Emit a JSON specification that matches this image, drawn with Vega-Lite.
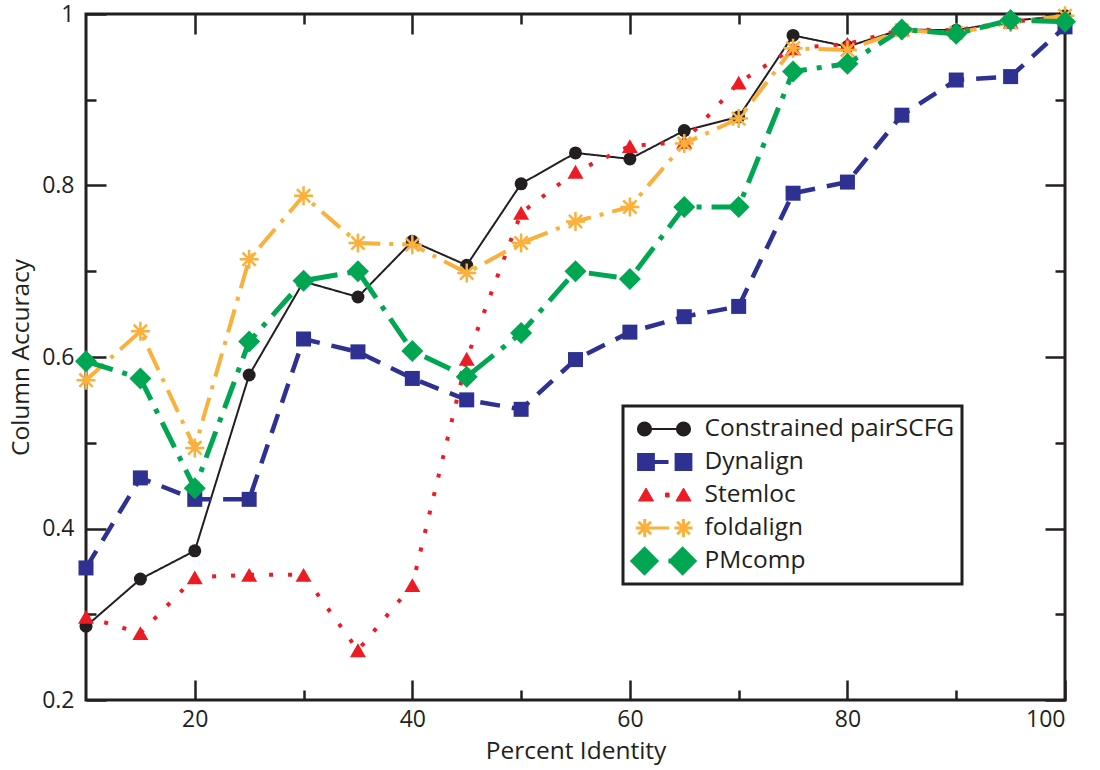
{
  "$schema": "https://vega.github.io/schema/vega-lite/v6.json",
  "autosize": "none",
  "width": 979,
  "height": 686,
  "padding": {"left": 86, "top": 14, "right": 35, "bottom": 70},
  "background": "white",
  "datasets": {
    "acc": [
      {"series": "Constrained pairSCFG", "pid": 10, "acc": 0.286},
      {"series": "Constrained pairSCFG", "pid": 15, "acc": 0.341},
      {"series": "Constrained pairSCFG", "pid": 20, "acc": 0.374},
      {"series": "Constrained pairSCFG", "pid": 25, "acc": 0.579},
      {"series": "Constrained pairSCFG", "pid": 30, "acc": 0.688},
      {"series": "Constrained pairSCFG", "pid": 35, "acc": 0.670},
      {"series": "Constrained pairSCFG", "pid": 40, "acc": 0.735},
      {"series": "Constrained pairSCFG", "pid": 45, "acc": 0.707},
      {"series": "Constrained pairSCFG", "pid": 50, "acc": 0.802},
      {"series": "Constrained pairSCFG", "pid": 55, "acc": 0.838},
      {"series": "Constrained pairSCFG", "pid": 60, "acc": 0.831},
      {"series": "Constrained pairSCFG", "pid": 65, "acc": 0.864},
      {"series": "Constrained pairSCFG", "pid": 70, "acc": 0.880},
      {"series": "Constrained pairSCFG", "pid": 75, "acc": 0.975},
      {"series": "Constrained pairSCFG", "pid": 80, "acc": 0.962},
      {"series": "Constrained pairSCFG", "pid": 85, "acc": 0.982},
      {"series": "Constrained pairSCFG", "pid": 90, "acc": 0.981},
      {"series": "Constrained pairSCFG", "pid": 95, "acc": 0.992},
      {"series": "Constrained pairSCFG", "pid": 100, "acc": 0.998},
      {"series": "Dynalign", "pid": 10, "acc": 0.354},
      {"series": "Dynalign", "pid": 15, "acc": 0.459},
      {"series": "Dynalign", "pid": 20, "acc": 0.434},
      {"series": "Dynalign", "pid": 25, "acc": 0.434},
      {"series": "Dynalign", "pid": 30, "acc": 0.621},
      {"series": "Dynalign", "pid": 35, "acc": 0.606},
      {"series": "Dynalign", "pid": 40, "acc": 0.575},
      {"series": "Dynalign", "pid": 45, "acc": 0.550},
      {"series": "Dynalign", "pid": 50, "acc": 0.539},
      {"series": "Dynalign", "pid": 55, "acc": 0.597},
      {"series": "Dynalign", "pid": 60, "acc": 0.629},
      {"series": "Dynalign", "pid": 65, "acc": 0.647},
      {"series": "Dynalign", "pid": 70, "acc": 0.659},
      {"series": "Dynalign", "pid": 75, "acc": 0.791},
      {"series": "Dynalign", "pid": 80, "acc": 0.804},
      {"series": "Dynalign", "pid": 85, "acc": 0.882},
      {"series": "Dynalign", "pid": 90, "acc": 0.923},
      {"series": "Dynalign", "pid": 95, "acc": 0.927},
      {"series": "Dynalign", "pid": 100, "acc": 0.985},
      {"series": "Stemloc", "pid": 10, "acc": 0.297},
      {"series": "Stemloc", "pid": 15, "acc": 0.278},
      {"series": "Stemloc", "pid": 20, "acc": 0.343},
      {"series": "Stemloc", "pid": 25, "acc": 0.346},
      {"series": "Stemloc", "pid": 30, "acc": 0.346},
      {"series": "Stemloc", "pid": 35, "acc": 0.258},
      {"series": "Stemloc", "pid": 40, "acc": 0.334},
      {"series": "Stemloc", "pid": 45, "acc": 0.598},
      {"series": "Stemloc", "pid": 50, "acc": 0.768},
      {"series": "Stemloc", "pid": 55, "acc": 0.816},
      {"series": "Stemloc", "pid": 60, "acc": 0.846},
      {"series": "Stemloc", "pid": 65, "acc": 0.851},
      {"series": "Stemloc", "pid": 70, "acc": 0.920},
      {"series": "Stemloc", "pid": 75, "acc": 0.960},
      {"series": "Stemloc", "pid": 80, "acc": 0.965},
      {"series": "Stemloc", "pid": 85, "acc": 0.982},
      {"series": "Stemloc", "pid": 90, "acc": 0.981},
      {"series": "Stemloc", "pid": 95, "acc": 0.991},
      {"series": "Stemloc", "pid": 100, "acc": 0.996},
      {"series": "foldalign", "pid": 10, "acc": 0.573},
      {"series": "foldalign", "pid": 15, "acc": 0.630},
      {"series": "foldalign", "pid": 20, "acc": 0.494},
      {"series": "foldalign", "pid": 25, "acc": 0.714},
      {"series": "foldalign", "pid": 30, "acc": 0.788},
      {"series": "foldalign", "pid": 35, "acc": 0.733},
      {"series": "foldalign", "pid": 40, "acc": 0.731},
      {"series": "foldalign", "pid": 45, "acc": 0.698},
      {"series": "foldalign", "pid": 50, "acc": 0.733},
      {"series": "foldalign", "pid": 55, "acc": 0.758},
      {"series": "foldalign", "pid": 60, "acc": 0.775},
      {"series": "foldalign", "pid": 65, "acc": 0.849},
      {"series": "foldalign", "pid": 70, "acc": 0.878},
      {"series": "foldalign", "pid": 75, "acc": 0.960},
      {"series": "foldalign", "pid": 80, "acc": 0.958},
      {"series": "foldalign", "pid": 85, "acc": 0.981},
      {"series": "foldalign", "pid": 90, "acc": 0.978},
      {"series": "foldalign", "pid": 95, "acc": 0.990},
      {"series": "foldalign", "pid": 100, "acc": 0.998},
      {"series": "PMcomp", "pid": 10, "acc": 0.595},
      {"series": "PMcomp", "pid": 15, "acc": 0.575},
      {"series": "PMcomp", "pid": 20, "acc": 0.447},
      {"series": "PMcomp", "pid": 25, "acc": 0.618},
      {"series": "PMcomp", "pid": 30, "acc": 0.689},
      {"series": "PMcomp", "pid": 35, "acc": 0.700},
      {"series": "PMcomp", "pid": 40, "acc": 0.607},
      {"series": "PMcomp", "pid": 45, "acc": 0.577},
      {"series": "PMcomp", "pid": 50, "acc": 0.628},
      {"series": "PMcomp", "pid": 55, "acc": 0.700},
      {"series": "PMcomp", "pid": 60, "acc": 0.691},
      {"series": "PMcomp", "pid": 65, "acc": 0.775},
      {"series": "PMcomp", "pid": 70, "acc": 0.775},
      {"series": "PMcomp", "pid": 75, "acc": 0.933},
      {"series": "PMcomp", "pid": 80, "acc": 0.942},
      {"series": "PMcomp", "pid": 85, "acc": 0.982},
      {"series": "PMcomp", "pid": 90, "acc": 0.977},
      {"series": "PMcomp", "pid": 95, "acc": 0.993},
      {"series": "PMcomp", "pid": 100, "acc": 0.991}
    ]
  },
  "data": {"name": "acc"},
  "resolve": {
    "axis": {"x": "independent", "y": "independent"},
    "scale": {"fill": "independent", "stroke": "independent", "shape": "independent", "strokeWidth": "independent"}
  },
  "layer": [
    {
      "mark": {"type": "line", "strokeCap": "butt", "strokeJoin": "miter"},
      "encoding": {
        "x": {"field": "pid", "type": "quantitative",
          "scale": {"domain": [10, 100], "nice": false, "zero": false},
          "axis": {"orient": "bottom", "values": [20, 40, 60, 80, 100], "tickSize": -20, "labelPadding": 28, "title": "Percent Identity", "titlePadding": 8}},
        "y": {"field": "acc", "type": "quantitative",
          "scale": {"domain": [0.2, 1], "nice": false, "zero": false},
          "axis": {"orient": "left", "values": [0.2, 0.4, 0.6, 0.8, 1], "format": "~g", "tickSize": -20, "labelPadding": 32, "title": "Column Accuracy", "titlePadding": 8}},
        "color": {"field": "series", "type": "nominal", "legend": null,
          "scale": {"domain": ["Constrained pairSCFG", "Dynalign", "Stemloc", "foldalign", "PMcomp"], "range": ["#231f20", "#2e3192", "#ed1c24", "#fbb03b", "#00a651"]}},
        "strokeDash": {"field": "series", "type": "nominal", "legend": null,
          "scale": {"domain": ["Constrained pairSCFG", "Dynalign", "Stemloc", "foldalign", "PMcomp"], "range": [[1, 0], [20, 12], [4, 15], [24, 9, 4, 9], [28, 10, 5, 10]]}},
        "strokeWidth": {"field": "series", "type": "nominal", "legend": null,
          "scale": {"type": "ordinal", "domain": ["Constrained pairSCFG", "Dynalign", "Stemloc", "foldalign", "PMcomp"], "range": [2, 4.5, 4, 4, 5]}}
      }
    },
    {
      "mark": {"type": "point", "filled": true, "opacity": 1},
      "encoding": {
        "x": {"field": "pid", "type": "quantitative",
          "axis": {"orient": "bottom", "values": [30, 50, 70, 90], "tickSize": -10, "labels": false, "title": null}},
        "y": {"field": "acc", "type": "quantitative",
          "axis": {"orient": "left", "values": [0.3, 0.5, 0.7, 0.9], "tickSize": -10, "labels": false, "title": null}},
        "fill": {"field": "series", "type": "nominal", "legend": null,
          "scale": {"domain": ["Constrained pairSCFG", "Dynalign", "Stemloc", "foldalign", "PMcomp"], "range": ["#231f20", "#2e3192", "#ed1c24", "#fbb03b", "#00a651"]}},
        "stroke": {"field": "series", "type": "nominal", "legend": null,
          "scale": {"domain": ["Constrained pairSCFG", "Dynalign", "Stemloc", "foldalign", "PMcomp"], "range": ["#231f20", "#2e3192", "#ed1c24", "#fbb03b", "#00a651"]}},
        "shape": {"field": "series", "type": "nominal", "legend": null,
          "scale": {"domain": ["Constrained pairSCFG", "Dynalign", "Stemloc", "foldalign", "PMcomp"], "range": ["circle", "square", "triangle-up", "M-1,0H1M0,-1V1M-0.7,-0.7L0.7,0.7M-0.7,0.7L0.7,-0.7", "diamond"]}},
        "size": {"field": "series", "type": "nominal", "legend": null,
          "scale": {"type": "ordinal", "domain": ["Constrained pairSCFG", "Dynalign", "Stemloc", "foldalign", "PMcomp"], "range": [169, 225, 256, 361, 484]}},
        "strokeWidth": {"field": "series", "type": "nominal", "legend": null,
          "scale": {"type": "ordinal", "domain": ["Constrained pairSCFG", "Dynalign", "Stemloc", "foldalign", "PMcomp"], "range": [0, 0, 0, 2.5, 0]}}
      }
    },
    {
      "mark": {"type": "point", "filled": true, "opacity": 0},
      "encoding": {
        "x": {"field": "pid", "type": "quantitative",
          "axis": {"orient": "top", "values": [20, 40, 60, 80, 100], "tickSize": -20, "labels": false, "title": null}},
        "y": {"field": "acc", "type": "quantitative",
          "axis": {"orient": "right", "values": [0.2, 0.4, 0.6, 0.8, 1], "tickSize": -20, "labels": false, "title": null}},
        "fill": {"field": "series", "type": "nominal",
          "scale": {"domain": ["Constrained pairSCFG", "Dynalign", "Stemloc", "foldalign", "PMcomp"], "range": ["#231f20", "#2e3192", "#ed1c24", "#fbb03b", "#00a651"]},
          "legend": {"title": null, "orient": "none", "legendX": 537, "legendY": 392}},
        "stroke": {"field": "series", "type": "nominal",
          "scale": {"domain": ["Constrained pairSCFG", "Dynalign", "Stemloc", "foldalign", "PMcomp"], "range": ["#231f20", "#2e3192", "#ed1c24", "#fbb03b", "#00a651"]},
          "legend": {"title": null, "orient": "none", "legendX": 537, "legendY": 392}},
        "shape": {"field": "series", "type": "nominal",
          "scale": {"domain": ["Constrained pairSCFG", "Dynalign", "Stemloc", "foldalign", "PMcomp"], "range": [
            "M-1.74,0A0.44,0.44,0,1,0,-0.86,0A0.44,0.44,0,1,0,-1.74,0ZM0.86,0A0.44,0.44,0,1,0,1.74,0A0.44,0.44,0,1,0,0.86,0ZM-0.86,0L0.86,0",
            "M-1.66,-0.46H-0.74V0.46H-1.66ZM0.84,-0.46H1.76V0.46H0.84ZM-0.74,0H0.3",
            "M-1.7,0.4L-1.2,-0.46L-0.7,0.4ZM0.8,0.4L1.3,-0.46L1.8,0.4ZM0.1,-0.13H0.34V0.13H0.1Z",
            "M-1.88,0H-0.68M-1.28,-0.6V0.6M-1.7,-0.42L-0.86,0.42M-1.7,0.42L-0.86,-0.42M0.7,0H1.9M1.3,-0.6V0.6M0.88,-0.42L1.72,0.42M0.88,0.42L1.72,-0.42M-0.68,0H0.34",
            "M-2.04,0L-1.3,-0.74L-0.56,0L-1.3,0.74ZM0.5,0L1.24,-0.74L1.98,0L1.24,0.74ZM0.3,0H0.6"]},
          "legend": {"title": null, "orient": "none", "legendX": 537, "legendY": 392}},
        "strokeWidth": {"field": "series", "type": "nominal",
          "scale": {"type": "ordinal", "domain": ["Constrained pairSCFG", "Dynalign", "Stemloc", "foldalign", "PMcomp"], "range": [2, 4, 1, 3, 5]},
          "legend": {"title": null, "orient": "none", "legendX": 537, "legendY": 392}}
      }
    },
    {
      "mark": {"type": "point", "opacity": 0},
      "encoding": {
        "x": {"field": "pid", "type": "quantitative",
          "axis": {"orient": "top", "values": [30, 50, 70, 90], "tickSize": -10, "labels": false, "title": null}},
        "y": {"field": "acc", "type": "quantitative",
          "axis": {"orient": "right", "values": [0.3, 0.5, 0.7, 0.9], "tickSize": -10, "labels": false, "title": null}}
      }
    }
  ],
  "config": {
    "view": {"stroke": "#231f20", "strokeWidth": 3},
    "axis": {
      "domain": false, "grid": false,
      "labelFont": "Open Sans", "labelFontSize": 23, "labelColor": "#231f20",
      "titleFont": "Open Sans", "titleFontSize": 24.5, "titleFontWeight": "normal", "titleColor": "#231f20",
      "tickColor": "#231f20", "tickWidth": 2.5
    },
    "legend": {
      "labelFont": "Open Sans", "labelFontSize": 24.5, "labelColor": "#231f20", "labelLimit": 400,
      "strokeColor": "#231f20", "strokeWidth": 3, "padding": 7,
      "symbolSize": 900, "symbolStrokeWidth": 2, "symbolOffset": 16.5, "labelOffset": 23, "rowPadding": 1,
      "clipHeight": 32,
      "symbolOpacity": 1
    }
  }
}
